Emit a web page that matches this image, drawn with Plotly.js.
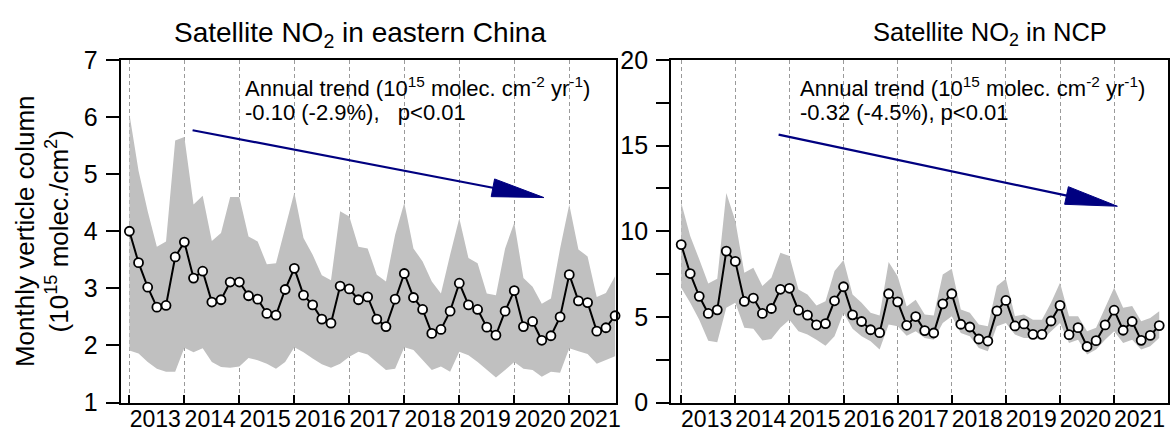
<!DOCTYPE html>
<html>
<head>
<meta charset="utf-8">
<script src="https://cdn.plot.ly/plotly-3.0.1.min.js"></script>
<style>html,body{margin:0;padding:0;background:#fff;}#chart{width:1174px;height:431px;}</style>
</head>
<body>
<div id="chart"></div>
<script>
// ---------------- data ----------------
const yearTicks = [2013, 2014, 2015, 2016, 2017, 2018, 2019, 2020, 2021];
const tickLabels = ['2013', '2014', '2015', '2016', '2017', '2018', '2019', '2020', '2021'];
const periodsPerYear = 6; // bi-monthly samples, first at start of 2013

// Eastern China (10^15 molec./cm^2)
const ecMean = [4.00, 3.45, 3.02, 2.67, 2.70, 3.55,
  3.81, 3.18, 3.30, 2.76, 2.80, 3.11,
  3.11, 2.87, 2.81, 2.56, 2.53, 2.98,
  3.35, 2.88, 2.71, 2.46, 2.39, 3.04,
  2.99, 2.80, 2.85, 2.46, 2.33, 2.81,
  3.26, 2.84, 2.63, 2.21, 2.28, 2.60,
  3.09, 2.71, 2.63, 2.32, 2.18, 2.60,
  2.96, 2.33, 2.42, 2.09, 2.17, 2.50,
  3.24, 2.78, 2.75, 2.25, 2.31, 2.52];
const ecUpper = [6.06, 5.06, 4.35, 3.73, 3.82, 5.59,
  5.65, 4.47, 4.62, 3.83, 3.97, 4.60,
  4.60, 3.91, 3.82, 3.42, 3.44, 4.06,
  4.68, 3.88, 3.59, 3.23, 3.14, 4.35,
  4.26, 3.73, 3.70, 3.24, 3.12, 3.94,
  4.50, 3.70, 3.47, 3.12, 2.91, 3.59,
  4.23, 3.53, 3.44, 2.91, 2.88, 3.70,
  4.15, 3.18, 3.03, 2.73, 2.82, 3.70,
  4.47, 3.68, 3.56, 2.85, 2.92, 3.21];
const ecLower = [1.91, 1.86, 1.71, 1.59, 1.54, 1.54,
  1.96, 1.88, 1.95, 1.71, 1.62, 1.61,
  1.63, 1.78, 1.74, 1.68, 1.59, 1.71,
  1.97, 1.88, 1.77, 1.67, 1.61, 1.68,
  1.80, 1.89, 1.84, 1.71, 1.57, 1.59,
  1.97, 1.92, 1.74, 1.57, 1.63, 1.54,
  1.89, 1.83, 1.71, 1.57, 1.44, 1.57,
  1.71, 1.59, 1.57, 1.45, 1.54, 1.52,
  1.95, 1.90, 1.85, 1.68, 1.74, 1.81];

// NCP
const ncpMean = [9.22, 7.53, 6.20, 5.20, 5.41, 8.84,
  8.24, 5.90, 6.10, 5.20, 5.49, 6.61,
  6.67, 5.39, 5.10, 4.53, 4.61, 5.94,
  6.76, 5.12, 4.73, 4.25, 4.08, 6.35,
  5.88, 4.51, 5.02, 4.20, 4.06, 5.76,
  6.35, 4.57, 4.41, 3.71, 3.59, 5.35,
  5.96, 4.47, 4.59, 3.98, 3.98, 4.76,
  5.67, 3.96, 4.37, 3.27, 3.61, 4.53,
  5.39, 4.22, 4.73, 3.63, 3.92, 4.49];
const ncpUpper = [11.68, 9.73, 8.36, 6.95, 7.22, 12.23,
  10.61, 7.58, 7.87, 6.80, 7.29, 8.75,
  8.56, 6.60, 6.31, 5.66, 5.92, 7.68,
  8.32, 6.31, 5.82, 5.24, 5.08, 8.20,
  7.38, 5.60, 6.00, 5.14, 5.08, 7.48,
  7.81, 5.43, 5.24, 4.55, 4.45, 6.80,
  7.22, 5.04, 5.14, 4.84, 4.84, 5.82,
  6.99, 5.04, 5.04, 4.16, 4.36, 5.53,
  6.70, 5.53, 5.63, 4.75, 4.94, 5.33];
const ncpLower = [6.70, 5.82, 4.84, 3.60, 3.52, 5.53,
  5.82, 4.36, 4.30, 3.62, 3.71, 4.36,
  4.84, 4.16, 3.97, 3.67, 3.32, 3.87,
  5.24, 4.30, 3.87, 3.58, 3.09, 4.55,
  4.45, 3.90, 4.16, 3.77, 3.67, 4.65,
  5.04, 4.06, 3.87, 3.19, 2.99, 4.45,
  4.65, 3.97, 3.77, 3.77, 3.67, 4.16,
  4.65, 3.48, 3.67, 2.80, 3.09, 3.67,
  4.16, 3.48, 3.67, 3.09, 3.28, 3.77];

// trend arrows (data coordinates) and texts
const ecTrend = {x0: 2014.15, y0: 5.77, x1: 2020.54, y1: 4.59};
const ncpTrend = {x0: 2014.80, y0: 15.64, x1: 2021.06, y1: 11.46};
const ecTrendText = ['Annual trend (10<sup>15</sup> molec. cm<sup>-2</sup> yr<sup>-1</sup>)', '-0.10 (-2.9%),\u00a0\u00a0 p&lt;0.01'];
const ncpTrendText = ['Annual trend (10<sup>15</sup> molec. cm<sup>-2</sup> yr<sup>-1</sup>)', '-0.32 (-4.5%), p&lt;0.01'];

// ---------------- layout geometry ----------------
const W = 1174, H = 431;
const FONT = 'Arial, "Liberation Sans", sans-serif';
const yDom = [0.0661, 0.8608];
const leftDom = [0.1027, 0.5247];
const rightDom = [0.5717, 0.9951];
const ecXRange = [2012.84, 2021.85];
const ncpXRange = [2012.815, 2022.0];
const labelOffset = 0.47;

const xs = ecMean.map((_, i) => yearTicks[0] + i / periodsPerYear);

function band(lower, upper, xa, ya) {
  return [
    {x: xs, y: lower, xaxis: xa, yaxis: ya, mode: 'lines', line: {width: 0, color: 'rgba(0,0,0,0)'},
     showlegend: false, hoverinfo: 'skip'},
    {x: xs, y: upper, xaxis: xa, yaxis: ya, mode: 'lines', line: {width: 0, color: 'rgba(0,0,0,0)'},
     fill: 'tonexty', fillcolor: '#c0c0c0', showlegend: false, hoverinfo: 'skip'}
  ];
}
function series(vals, xa, ya) {
  return {x: xs, y: vals, xaxis: xa, yaxis: ya, mode: 'lines+markers', cliponaxis: false,
    line: {color: '#000', width: 2},
    marker: {symbol: 'circle', size: 9, color: '#fff', line: {color: '#000', width: 1.8}},
    showlegend: false};
}
function labelTrace(xa, ya) {
  return {x: yearTicks.map(y => y + labelOffset), y: yearTicks.map(() => null), xaxis: xa, yaxis: ya,
    mode: 'none', showlegend: false, hoverinfo: 'skip'};
}

const traces = [
  ...band(ecLower, ecUpper, 'x', 'y'),
  series(ecMean, 'x', 'y'),
  labelTrace('x3', 'y'),
  ...band(ncpLower, ncpUpper, 'x2', 'y2'),
  series(ncpMean, 'x2', 'y2'),
  labelTrace('x4', 'y2')
];

function mainX(dom, range, anchor) {
  return {domain: dom, range: range, anchor: anchor, tickmode: 'array', tickvals: yearTicks,
    ticks: 'inside', ticklen: 8, tickwidth: 2, tickcolor: '#000', showticklabels: false,
    showgrid: true, gridcolor: '#9a9a9a', gridwidth: 1, griddash: '4px,3px',
    showline: true, linecolor: '#000', linewidth: 2, mirror: true, zeroline: false, fixedrange: true};
}
function labelX(over, range, anchor) {
  return {overlaying: over, anchor: anchor, side: 'bottom', range: range, tickmode: 'array',
    tickvals: yearTicks.map(y => y + labelOffset), ticktext: tickLabels, ticks: '',
    showgrid: false, showline: false, zeroline: false, tickfont: {size: 23, color: '#000'}, fixedrange: true};
}
function yAx(range, vals, anchor, extra) {
  return Object.assign({domain: yDom, range: range, anchor: anchor, tickmode: 'array', tickvals: vals,
    ticks: 'outside', ticklen: 13, tickwidth: 2, tickcolor: '#000', tickfont: {size: 25, color: '#000'},
    ticklabelstandoff: 3,
    showline: true, linecolor: '#000', linewidth: 2, mirror: true, showgrid: false, zeroline: false,
    fixedrange: true}, extra || {});
}

// arrow geometry (shaft + long triangular head), built in pixels and mapped back to data
function arrowShapes(t, xDom, xRange, yRange, xref, yref) {
  const pxPerX = (xDom[1] - xDom[0]) * W / (xRange[1] - xRange[0]);
  const pxPerY = (yDom[1] - yDom[0]) * H / (yRange[1] - yRange[0]);
  const dxp = (t.x1 - t.x0) * pxPerX, dyp = -(t.y1 - t.y0) * pxPerY;
  const len = Math.hypot(dxp, dyp);
  const ux = dxp / len, uy = dyp / len;
  const headLen = 52, halfW = 9;
  const bx = -ux * headLen, by = -uy * headLen;
  const toX = p => t.x1 + p / pxPerX, toY = p => t.y1 - p / pxPerY;
  const b1 = [toX(bx - uy * halfW), toY(by + ux * halfW)];
  const b2 = [toX(bx + uy * halfW), toY(by - ux * halfW)];
  const bc = [toX(bx * 0.9), toY(by * 0.9)];
  return [
    {type: 'line', xref: xref, yref: yref, x0: t.x0, y0: t.y0, x1: bc[0], y1: bc[1],
     line: {color: '#000080', width: 2.2}, layer: 'above'},
    {type: 'path', xref: xref, yref: yref,
     path: `M${t.x1},${t.y1} L${b1[0]},${b1[1]} L${b2[0]},${b2[1]} Z`,
     fillcolor: '#000080', line: {color: '#000080', width: 1}, layer: 'above'}
  ];
}

const px2x = p => p / W;
const px2y = p => 1 - p / H;

const layout = {
  width: W, height: H, margin: {l: 0, r: 0, t: 0, b: 0}, paper_bgcolor: '#fff', plot_bgcolor: '#fff',
  font: {family: FONT, color: '#000'}, showlegend: false,
  xaxis: mainX(leftDom, ecXRange, 'y'),
  xaxis3: labelX('x', ecXRange, 'y'),
  yaxis: yAx([1, 7], [1, 2, 3, 4, 5, 6, 7], 'x', {
    title: {text: 'Monthly verticle column<br>(10<sup>15</sup> molec./cm<sup>2</sup>)', font: {size: 26}, standoff: 8}}),
  xaxis2: mainX(rightDom, ncpXRange, 'y2'),
  xaxis4: labelX('x2', ncpXRange, 'y2'),
  yaxis2: yAx([0, 20], [0, 5, 10, 15, 20], 'x2', {
    minor: {tickmode: 'array', tickvals: [2.5, 7.5, 12.5, 17.5], ticks: 'outside', ticklen: 13, tickwidth: 2,
            tickcolor: '#000', showgrid: false}}),
  shapes: [
    ...arrowShapes(ecTrend, leftDom, ecXRange, [1, 7], 'x', 'y'),
    ...arrowShapes(ncpTrend, rightDom, ncpXRange, [0, 20], 'x2', 'y2')
  ],
  annotations: [
    {xref: 'paper', yref: 'paper', x: px2x(360), y: px2y(34), text: 'Satellite NO<sub>2</sub> in eastern China',
     showarrow: false, xanchor: 'center', yanchor: 'middle', font: {size: 28}},
    {xref: 'paper', yref: 'paper', x: px2x(990), y: px2y(34), text: 'Satellite NO<sub>2</sub> in NCP',
     showarrow: false, xanchor: 'center', yanchor: 'middle', font: {size: 25.5}},
    {xref: 'paper', yref: 'paper', x: px2x(243), y: px2y(87), text: ecTrendText[0],
     showarrow: false, xanchor: 'left', yanchor: 'middle', font: {size: 22}},
    {xref: 'paper', yref: 'paper', x: px2x(243), y: px2y(113), text: ecTrendText[1],
     showarrow: false, xanchor: 'left', yanchor: 'middle', font: {size: 22}},
    {xref: 'paper', yref: 'paper', x: px2x(798), y: px2y(87), text: ncpTrendText[0],
     showarrow: false, xanchor: 'left', yanchor: 'middle', font: {size: 22}},
    {xref: 'paper', yref: 'paper', x: px2x(798), y: px2y(113), text: ncpTrendText[1],
     showarrow: false, xanchor: 'left', yanchor: 'middle', font: {size: 22}}
  ]
};

Plotly.newPlot('chart', traces, layout, {staticPlot: true, displayModeBar: false});
</script>
</body>
</html>
